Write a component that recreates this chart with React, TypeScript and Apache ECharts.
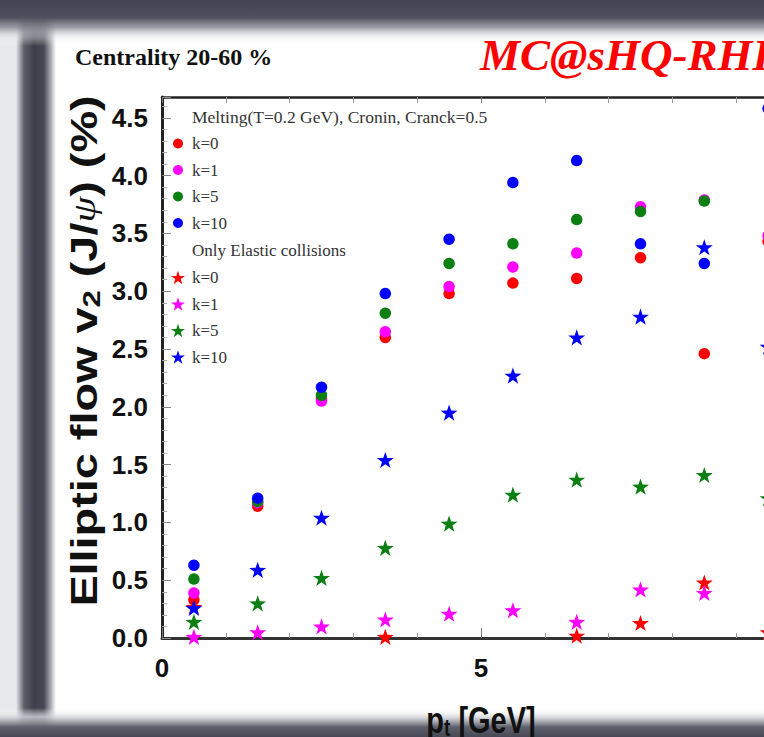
import React, { useEffect, useRef } from "react";
import * as echarts from "echarts";

// ---- data ----
const ptBins = [0.5, 1.5, 2.5, 3.5, 4.5, 5.5, 6.5, 7.5, 8.5, 9.5];
const kLabels = ["k=0", "k=1", "k=5", "k=10"];
const kColors = ["#ff0000", "#ff00ff", "#0b7f12", "#0000ff"];

// Melting (T=0.2 GeV), Cronin, Cranck=0.5  (circles)
const meltK0 = [0.33, 1.14, 2.07, 2.6, 2.98, 3.07, 3.11, 3.29, 2.46, 3.43];
const meltK1 = [0.39, 1.17, 2.05, 2.65, 3.04, 3.21, 3.33, 3.73, 3.79, 3.48];
const meltK5 = [0.51, 1.18, 2.1, 2.81, 3.24, 3.41, 3.62, 3.69, 3.78, null];
const meltK10 = [0.63, 1.21, 2.17, 2.98, 3.45, 3.94, 4.13, 3.41, 3.24, 4.58];

// Only elastic collisions (stars)
const elasK0 = [0.27, null, null, 0.01, null, null, 0.02, 0.13, 0.48, 0.05];
const elasK1 = [0.01, 0.05, 0.1, 0.16, 0.21, 0.24, 0.14, 0.42, 0.39, null];
const elasK5 = [0.14, 0.3, 0.52, 0.78, 0.99, 1.24, 1.37, 1.31, 1.41, 1.21];
const elasK10 = [0.26, 0.59, 1.04, 1.54, 1.95, 2.27, 2.6, 2.78, 3.38, 2.52];

const xTickMin = 0;
const xTickMax = 10;
const yTickMin = 0;
const yTickMax = 4.68;

const meltingSets = [meltK0, meltK1, meltK5, meltK10];
const elasticSets = [elasK0, elasK1, elasK5, elasK10];

function starPath(): string {
  const pts: string[] = [];
  for (let i = 0; i < 10; i++) {
    const a = ((-90 + i * 36) * Math.PI) / 180;
    const r = i % 2 === 0 ? 10 : 3.9;
    pts.push((r * Math.cos(a)).toFixed(2) + " " + (r * Math.sin(a)).toFixed(2));
  }
  return "path://M" + pts.join(" L") + " Z";
}
const STAR = starPath();

function pairs(vals: (number | null)[]) {
  const out: number[][] = [];
  vals.forEach((v, i) => {
    if (v !== null) out.push([ptBins[i], v]);
  });
  return out;
}

const SANS = '"Liberation Sans", Arial, sans-serif';
const SERIF = '"Liberation Serif", "Times New Roman", serif';

export default function App() {
  const ref = useRef<HTMLDivElement>(null);
  useEffect(() => {
    const W = 820;
    const H = 737;
    const chart = echarts.init(ref.current!, null, { renderer: "svg" });
    const series: any[] = [];
    meltingSets.forEach((vals, i) => {
      series.push({
        type: "scatter",
        name: "Melting " + kLabels[i],
        xAxisIndex: 0,
        yAxisIndex: 0,
        symbol: "circle",
        symbolSize: 11.5,
        itemStyle: { color: kColors[i], opacity: 1 },
        data: pairs(vals),
        z: 3,
      });
    });
    elasticSets.forEach((vals, i) => {
      series.push({
        type: "scatter",
        name: "Elastic " + kLabels[i],
        xAxisIndex: 0,
        yAxisIndex: 0,
        symbol: STAR,
        symbolKeepAspect: true,
        symbolSize: 17,
        itemStyle: { color: kColors[i], opacity: 1 },
        data: pairs(vals),
        z: 4,
      });
    });

    const legendText = {
      fontFamily: SERIF,
      fontSize: 17,
      color: "#333",
      lineHeight: 16,
    };

    const option: any = {
      animation: false,
      backgroundColor: "#ffffff",
      grid: {
        left: 162,
        top: 97,
        width: 638,
        height: 541,
        outerBoundsMode: "none",
        containLabel: false,
      },
      xAxis: [
        {
          type: "value",
          position: "bottom",
          min: xTickMin,
          max: xTickMax,
          interval: 5,
          axisLine: { show: true, onZero: false, lineStyle: { color: "#333", width: 3 } },
          axisTick: { show: true, inside: true, length: 10, lineStyle: { color: "#777", width: 1 } },
          minorTick: { show: true, splitNumber: 5, length: 5, lineStyle: { color: "#999", width: 1 } },
          splitLine: { show: false },
          axisLabel: {
            margin: 17,
            fontFamily: SANS,
            fontWeight: "bold",
            fontSize: 26,
            color: "#111",
            formatter: (v: number) => (v % 5 === 0 && v < xTickMax ? String(v) : ""),
          },
        },
        {
          type: "value",
          position: "top",
          min: xTickMin,
          max: xTickMax,
          interval: 5,
          axisLine: { show: true, onZero: false, lineStyle: { color: "#222", width: 2.5 } },
          axisTick: { show: true, inside: true, length: 6, lineStyle: { color: "#777", width: 1 } },
          minorTick: { show: true, splitNumber: 5, length: 6, lineStyle: { color: "#999", width: 1 } },
          splitLine: { show: false },
          axisLabel: { show: false },
        },
      ],
      yAxis: {
        type: "value",
        min: yTickMin,
        max: yTickMax,
        interval: 0.5,
        axisLine: { show: true, onZero: false, lineStyle: { color: "#222", width: 3 } },
        axisTick: { show: true, inside: true, length: 9, lineStyle: { color: "#888", width: 1 } },
        minorTick: { show: true, splitNumber: 5, length: 5, lineStyle: { color: "#aaa", width: 1 } },
        splitLine: { show: false },
        axisLabel: {
          margin: 14,
          fontFamily: SANS,
          fontWeight: "bold",
          fontSize: 26,
          color: "#111",
          formatter: (v: number) =>
            Math.abs(v * 2 - Math.round(v * 2)) < 1e-6 ? v.toFixed(1) : "",
        },
      },
      legend: [
        {
          orient: "vertical",
          left: 173,
          top: 135,
          padding: 0,
          itemWidth: 10,
          itemHeight: 10,
          itemGap: 9.5,
          selectedMode: false,
          data: kLabels.map((k) => "Melting " + k),
          formatter: (n: string) => n.split(" ")[1],
          textStyle: { ...legendText, padding: [0, 0, 0, 4] },
        },
        {
          orient: "vertical",
          left: 171,
          top: 269,
          padding: 0,
          itemWidth: 14,
          itemHeight: 14,
          itemGap: 9.5,
          selectedMode: false,
          data: kLabels.map((k) => "Elastic " + k),
          formatter: (n: string) => n.split(" ")[1],
          textStyle: { ...legendText, padding: [0, 0, 0, 2] },
        },
      ],
      graphic: {
        elements: [
          // slide frame: light strip and dark band on the left
          {
            type: "rect",
            z: -10,
            shape: { x: 0, y: 0, width: 18, height: H },
            style: { fill: "#e8e9ec" },
          },
          {
            type: "rect",
            z: -10,
            shape: { x: 16, y: 0, width: 40, height: H },
            style: {
              fill: new echarts.graphic.LinearGradient(0, 0, 1, 0, [
                { offset: 0, color: "#e8e9ec" },
                { offset: 0.2, color: "#5c5f6a" },
                { offset: 0.45, color: "#3d404b" },
                { offset: 0.7, color: "#464955" },
                { offset: 0.86, color: "#a3a5ac" },
                { offset: 1, color: "#ffffff" },
              ]),
            },
          },
          // top band
          {
            type: "rect",
            z: -9,
            shape: { x: 0, y: 0, width: W, height: 46 },
            style: {
              fill: new echarts.graphic.LinearGradient(0, 0, 0, 1, [
                { offset: 0, color: "rgba(66,69,81,1)" },
                { offset: 0.38, color: "rgba(78,81,93,1)" },
                { offset: 0.6, color: "rgba(140,142,151,0.85)" },
                { offset: 0.8, color: "rgba(224,225,228,0.45)" },
                { offset: 1, color: "rgba(255,255,255,0)" },
              ]),
            },
          },
          // bottom band
          {
            type: "rect",
            z: -9,
            shape: { x: 0, y: 708, width: W, height: 29 },
            style: {
              fill: new echarts.graphic.LinearGradient(0, 0, 0, 1, [
                { offset: 0, color: "rgba(255,255,255,0)" },
                { offset: 0.3, color: "rgba(214,215,219,0.8)" },
                { offset: 0.65, color: "#5f626d" },
                { offset: 1, color: "#464955" },
              ]),
            },
          },
          // titles
          {
            type: "text",
            z: 10,
            x: 75,
            y: 57,
            style: {
              text: "Centrality 20-60 %",
              font: 'bold 24px "Liberation Serif", serif',
              fill: "#111",
              align: "left",
              verticalAlign: "middle",
            },
          },
          {
            type: "text",
            z: 10,
            x: 480,
            y: 55,
            style: {
              text: "MC@sHQ-RHIC",
              font: 'italic bold 45px "Liberation Serif", serif',
              fill: "#ff0000",
              align: "left",
              verticalAlign: "middle",
            },
          },
          // legend headers
          {
            type: "text",
            z: 10,
            x: 192,
            y: 117,
            style: {
              text: "Melting(T=0.2 GeV), Cronin, Cranck=0.5",
              font: '17.5px "Liberation Serif", serif',
              fill: "#333",
              align: "left",
              verticalAlign: "middle",
            },
          },
          {
            type: "text",
            z: 10,
            x: 192,
            y: 250,
            style: {
              text: "Only Elastic collisions",
              font: '17px "Liberation Serif", serif',
              fill: "#333",
              align: "left",
              verticalAlign: "middle",
            },
          },
          // axis titles
          {
            type: "text",
            z: 10,
            x: 84,
            y: 351,
            rotation: Math.PI / 2,
            scaleX: 1.3,
            style: {
              text: "{t|Elliptic flow v}{s|2}{t| (J/}{p|ψ}{t|) (%)}",
              align: "center",
              verticalAlign: "middle",
              rich: {
                t: { fontFamily: SANS, fontWeight: "bold", fontSize: 36, fill: "#111", lineHeight: 40 },
                s: {
                  fontFamily: SANS,
                  fontWeight: "bold",
                  fontSize: 24,
                  fill: "#111",
                  lineHeight: 24,
                  verticalAlign: "bottom",
                },
                p: {
                  fontFamily: SERIF,
                  fontStyle: "italic",
                  fontSize: 32,
                  fill: "#111",
                  lineHeight: 40,
                },
              },
            },
          },
          {
            type: "text",
            z: 10,
            x: 481,
            y: 720,
            scaleY: 1.25,
            style: {
              text: "{t|p}{s|t}{t| [GeV]}",
              align: "center",
              verticalAlign: "middle",
              rich: {
                t: { fontFamily: SANS, fontWeight: "bold", fontSize: 29, fill: "#111", lineHeight: 32 },
                s: {
                  fontFamily: SANS,
                  fontWeight: "bold",
                  fontSize: 19,
                  fill: "#111",
                  lineHeight: 19,
                  verticalAlign: "bottom",
                },
              },
            },
          },
        ],
      },
      series,
    };
    chart.setOption(option);
    return () => chart.dispose();
  }, []);
  return (
    <div
      style={{
        position: "fixed",
        left: 0,
        top: 0,
        width: 764,
        height: 737,
        overflow: "hidden",
        background: "#ffffff",
      }}
    >
      <div ref={ref} style={{ width: 820, height: 737 }} />
    </div>
  );
}
